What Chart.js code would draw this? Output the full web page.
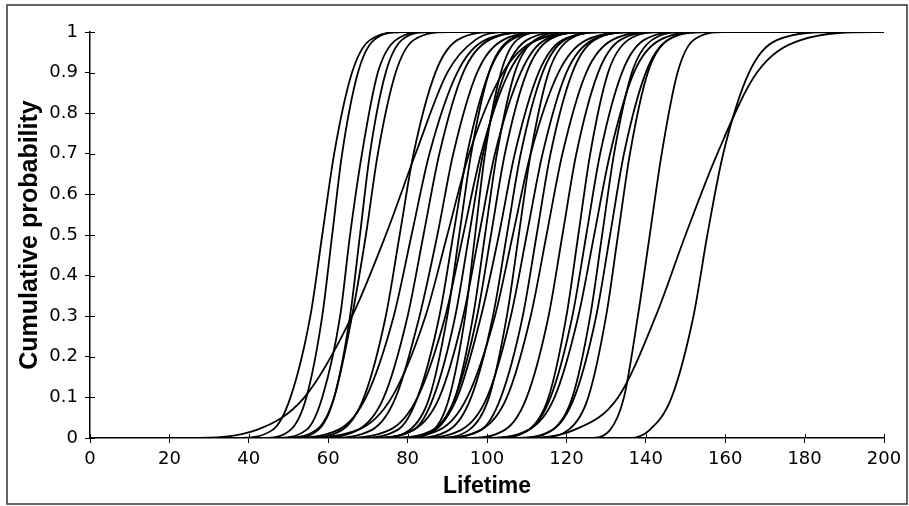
<!DOCTYPE html>
<html>
<head>
<meta charset="utf-8">
<script src="https://cdn.jsdelivr.net/npm/chart.js@4.4.0/dist/chart.umd.min.js"></script>
<style>
  html, body { margin: 0; padding: 0; background: #fff; }
  #wrap { width: 909px; height: 506px; }
</style>
</head>
<body>
<div id="wrap"><canvas id="chartVida" width="909" height="506"></canvas></div>
<script>
// probability levels each curve is read at
const niveles = [0, 0.02, 0.1, 0.3, 0.5, 0.7, 0.9, 0.98, 1];

// lifetime at each level, one row per curve
const curvas = [
  [37, 46, 50.5, 55.5, 58.5, 61.5, 66, 70.5, 79],
  [43.5, 50.5, 54.5, 58.5, 61, 63.5, 67.5, 71.5, 78.5],
  [46.5, 54.5, 58.5, 63, 65.5, 68.5, 72.5, 77, 85],
  [50.5, 57.5, 61.5, 65.5, 68, 70.5, 74.5, 78.5, 85.5],
  [48, 57, 61.5, 66, 69.5, 72.5, 77, 81.5, 90.5],
  [25, 42, 54, 66, 74.5, 82, 90, 97, 105],
  [53.5, 63.5, 69, 74.5, 78, 81.5, 87, 92.5, 102.5],
  [49.5, 62.5, 69.5, 76.5, 81, 85.5, 92.5, 99.5, 112.5],
  [56, 67.5, 74, 80, 84, 88, 94, 100.5, 112],
  [59.5, 71, 77, 83, 87.5, 91.5, 97.5, 104, 115.5],
  [51.5, 67.5, 76, 84.5, 90, 95.5, 104, 112.5, 128.5],
  [67, 77.5, 82.5, 88, 91.5, 95, 100.5, 106, 116],
  [72, 80.5, 85.5, 90, 93, 96, 100.5, 105.5, 114],
  [62.5, 75.5, 82.5, 89.5, 94, 98.5, 105.5, 112.5, 125.5],
  [71, 81.5, 86.5, 92, 95.5, 99, 104.5, 110, 120],
  [79.5, 86.5, 90.5, 94.5, 97, 99.5, 103.5, 107.5, 114.5],
  [70, 81.5, 88, 94, 98, 102, 108.5, 114.5, 126],
  [78.5, 87, 92, 96.5, 99.5, 102.5, 107, 112, 120.5],
  [76.5, 86.5, 92, 97.5, 101, 104.5, 110, 115.5, 125.5],
  [75, 86.5, 92.5, 98.5, 103, 107, 113, 119, 131],
  [80.5, 90.5, 96, 101.5, 105, 108.5, 114, 119.5, 129.5],
  [75, 88, 95, 102, 106.5, 111, 118, 125, 138],
  [87, 95.5, 100.5, 105, 108, 111, 115.5, 120.5, 129],
  [82, 93.5, 100, 106, 110, 114, 120, 126.5, 138],
  [88, 98.5, 103.5, 109, 112.5, 116, 121.5, 127, 137],
  [87, 98.5, 105, 111, 115, 119, 125, 131.5, 143],
  [94.5, 104.5, 110, 115.5, 119, 122.5, 128, 133.5, 143.5],
  [102, 110.5, 115.5, 120, 123, 126, 130.5, 135.5, 144],
  [100.5, 110.5, 116, 121.5, 125, 128.5, 134, 139.5, 149.5],
  [99, 110.5, 117, 123, 127, 131, 137, 143.5, 155],
  [108, 116.5, 121.5, 126, 129, 132, 136.5, 141.5, 150],
  [106.5, 116.5, 122, 127.5, 131, 134.5, 140, 145.5, 155.5],
  [112, 120.5, 125.5, 130, 133, 136, 140.5, 145.5, 154],
  [126, 131, 134.5, 138, 141, 144, 148, 152, 160],
  [108, 122, 133, 142.5, 150, 158, 168, 179, 198],
  [136, 141, 146.5, 152, 155.5, 159.5, 166, 173, 188]
];

const X_MIN = 0;
const X_MAX = 200;

const datasets = curvas.map((fila) => {
  const puntos = [{ x: X_MIN, y: 0 }];
  fila.forEach((valor, i) => puntos.push({ x: valor, y: niveles[i] }));
  puntos.push({ x: X_MAX, y: 1 });
  return {
    data: puntos,
    borderColor: "#000",
    borderWidth: 1.8,
    pointRadius: 0,
    fill: false,
    cubicInterpolationMode: "monotone",
  };
});

// frame round the whole figure and the inner half of the tick marks
const marcoPlugin = {
  id: "marco",
  beforeDraw(chart) {
    const ctx = chart.ctx;
    ctx.save();
    ctx.fillStyle = "#fff";
    ctx.fillRect(0, 0, chart.width, chart.height);
    ctx.strokeStyle = "#333";
    ctx.lineWidth = 1.5;
    ctx.strokeRect(7, 5, 900, 499);
    ctx.restore();
  },
  afterDraw(chart) {
    const ctx = chart.ctx;
    const xs = chart.scales.x;
    const ys = chart.scales.y;
    ctx.save();
    ctx.strokeStyle = "#000";
    ctx.lineWidth = 1;
    ys.ticks.forEach((t) => {
      const py = Math.round(ys.getPixelForValue(t.value)) + 0.5;
      ctx.beginPath();
      ctx.moveTo(xs.left, py);
      ctx.lineTo(xs.left + 5, py);
      ctx.stroke();
    });
    xs.ticks.forEach((t) => {
      const px = Math.round(xs.getPixelForValue(t.value)) + 0.5;
      ctx.beginPath();
      ctx.moveTo(px, ys.bottom);
      ctx.lineTo(px, ys.bottom - 4);
      ctx.stroke();
    });
    ctx.restore();
  },
};

const ctx = document.getElementById("chartVida").getContext("2d");

new Chart(ctx, {
  type: "line",
  data: { datasets: datasets },
  plugins: [marcoPlugin],
  options: {
    responsive: false,
    animation: false,
    layout: { padding: { top: 32, right: 25, left: 0, bottom: 0 } },
    plugins: {
      legend: { display: false },
      tooltip: { enabled: false },
    },
    scales: {
      x: {
        type: "linear",
        min: X_MIN,
        max: X_MAX,
        afterFit: (scale) => { scale.height = 68; },
        ticks: {
          stepSize: 20,
          color: "#000",
          padding: 6,
          maxRotation: 0,
          font: { family: "DejaVu Sans", size: 18 },
        },
        grid: {
          drawOnChartArea: false,
          tickLength: 5,
          color: "#000",
        },
        border: { color: "#000", width: 1.5 },
        title: {
          display: true,
          text: "Lifetime",
          color: "#000",
          padding: { top: 0, bottom: 6 },
          font: { family: "Liberation Sans, Arial", size: 23, weight: "bold" },
        },
      },
      y: {
        min: 0,
        max: 1,
        afterFit: (scale) => { scale.width = 90; },
        ticks: {
          stepSize: 0.1,
          color: "#000",
          padding: 7,
          font: { family: "DejaVu Sans", size: 18 },
          callback: (valor) => String(Number(valor.toFixed(1))),
        },
        grid: {
          drawOnChartArea: false,
          tickLength: 5,
          color: "#000",
        },
        border: { color: "#000", width: 1.5 },
        title: {
          display: true,
          text: "Cumulative probability",
          color: "#000",
          padding: { top: 15, bottom: 0 },
          font: { family: "Liberation Sans, Arial", size: 25, weight: "bold" },
        },
      },
    },
  },
});
</script>
</body>
</html>
